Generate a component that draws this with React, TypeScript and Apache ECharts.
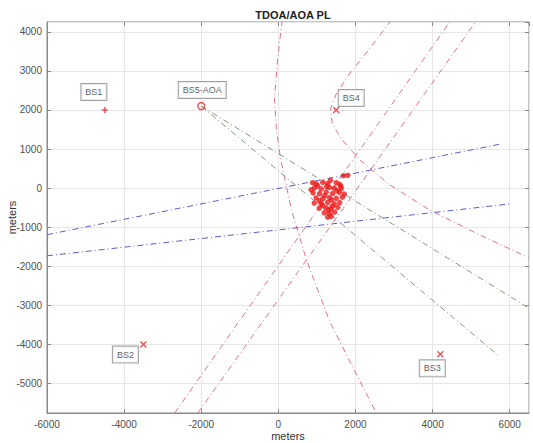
import React, { useEffect, useRef } from "react";
import * as echarts from "echarts";

// Base stations
const stationNames = ["BS1", "BS2", "BS3", "BS4", "BS5-AOA"];
const stationX = [-4500, -3500, 4200, 1500, -2000];
const stationY = [2000, -4000, -4250, 2000, 2100];

// Estimated positions (cluster)
const clusterX = [1690, 1800, 890, 980, 1150, 1280, 1500, 1590, 940, 1110, 1320, 1450, 1630, 900, 1070, 1240, 1410, 1580, 1710, 980, 1150, 1330, 1500, 1660, 930, 1110, 1280, 1450, 1590, 1060, 1240, 1370, 1540, 1190, 1320, 1460, 1280, 1370, 1020, 1200, 1380, 1520, 1250, 1060, 1400, 1150, 1300, 1620, 850, 1350];
const clusterY = [320, 330, 140, 110, 150, 120, 140, 100, 10, -20, 20, 0, -10, -120, -140, -100, -130, -110, -150, -250, -270, -240, -260, -230, -380, -390, -360, -400, -370, -510, -500, -530, -490, -630, -650, -610, -740, -720, 60, -190, -300, -60, 40, -320, -460, -440, -560, 50, -40, 200];

// TDOA hyperbola bounds (pink)
const hypOuterX = [100, -20, -100, -50, 60, 340, 730, 1320, 1970, 2540];
const hypOuterY = [4300, 3300, 2280, 1500, 735, -550, -1840, -3380, -4660, -5750];
const hypInnerX = [2930, 2360, 1840, 1500, 1350, 1400, 1640, 2100, 2880, 3910, 5210, 6500];
const hypInnerY = [4300, 3560, 2920, 2410, 2020, 1640, 1250, 735, 90, -550, -1190, -1780];
const hypDiagAX = [-2690, 4480];
const hypDiagAY = [-5750, 4300];
const hypDiagBX = [-2090, 5150];
const hypDiagBY = [-5750, 4300];

// TDOA bounds (blue)
const blueUpperX = [-6000, 5720];
const blueUpperY = [-1190, 1120];
const blueLowerX = [-6000, 6030];
const blueLowerY = [-1730, -400];

// AOA bounds (green), from BS5
const aoaUpperX = [-2000, 6500];
const aoaUpperY = [2100, -3070];
const aoaLowerX = [-2000, 5720];
const aoaLowerY = [2100, -4290];

const zip = (xs: number[], ys: number[]) => xs.map((x, i) => [x, ys[i]]);

const labelOffsets = [
  [-11, -18],
  [-18, 10],
  [-8, 14],
  [15, -12],
  [1, -16],
];

const CROSS = "path://M0,0L10,10M10,0L0,10";
const PLUS = "path://M5,0L5,10M0,5L10,5";

export default function App() {
  const ref = useRef<HTMLDivElement>(null);
  useEffect(() => {
    if (!ref.current) return;
    const chart = echarts.init(ref.current, null, { renderer: "svg" });
    const dash = [6, 3, 1, 3];
    const lineSeries = (data: number[][], color: string) => ({
      type: "line",
      data,
      showSymbol: false,
      symbol: "none",
      silent: true,
      clip: true,
      lineStyle: { color, width: 1, type: dash },
      z: 2,
    });
    const pink = "#e0708f";
    const blue = "#5a5ccf";
    const green = "#7a9c7a";
    const fmt = (v: number) => String(Math.round(v));
    const tickStyle = { show: true, inside: true, length: 4, lineStyle: { color: "#8a8a8a" } };
    const axisCommon = {
      axisLine: { show: true, onZero: false, lineStyle: { color: "#8a8a8a" } },
      axisTick: tickStyle,
      splitLine: { show: true, lineStyle: { color: "#e6e6e6", width: 1 } },
      axisLabel: { color: "#505050", fontSize: 10, fontFamily: "Liberation Sans", formatter: fmt },
      nameTextStyle: { color: "#333", fontSize: 11, fontFamily: "Liberation Sans" },
      nameMoveOverlap: false,
    };
    chart.setOption({
      animation: false,
      backgroundColor: "#ffffff",
      title: {
        text: "TDOA/AOA PL",
        left: 288,
        textAlign: "center",
        top: 4,
        textStyle: { fontSize: 11, fontWeight: "bold", color: "#222", fontFamily: "Liberation Sans" },
      },
      grid: {
        left: 47,
        right: 4,
        top: 22,
        bottom: 30,
        show: true,
        borderColor: "#8a8a8a",
        borderWidth: 1,
        containLabel: false,
        outerBoundsMode: "none",
      },
      xAxis: [
        {
          type: "value",
          min: -6000,
          max: 6500,
          splitNumber: 6,
          name: "meters",
          nameLocation: "middle",
          nameGap: 17,
          ...axisCommon,
          axisLabel: { ...axisCommon.axisLabel, margin: 6, showMaxLabel: false },
        },
        {
          type: "value",
          position: "top",
          min: -6000,
          max: 6500,
          splitNumber: 6,
          axisLine: { show: false, onZero: false },
          axisTick: tickStyle,
          axisLabel: { show: false },
          splitLine: { show: false },
        },
      ],
      yAxis: [
        {
          type: "value",
          min: -5750,
          max: 4250,
          splitNumber: 10,
          name: "meters",
          nameLocation: "middle",
          nameGap: 30,
          ...axisCommon,
          axisLabel: { ...axisCommon.axisLabel, margin: 5, showMinLabel: false, showMaxLabel: false },
        },
        {
          type: "value",
          position: "right",
          min: -5750,
          max: 4250,
          splitNumber: 10,
          axisLine: { show: false, onZero: false },
          axisTick: tickStyle,
          axisLabel: { show: false },
          splitLine: { show: false },
        },
      ],
      series: [
        lineSeries(zip(hypOuterX, hypOuterY), pink),
        lineSeries(zip(hypInnerX, hypInnerY), pink),
        lineSeries(zip(hypDiagAX, hypDiagAY), pink),
        lineSeries(zip(hypDiagBX, hypDiagBY), pink),
        lineSeries(zip(blueUpperX, blueUpperY), blue),
        lineSeries(zip(blueLowerX, blueLowerY), blue),
        lineSeries(zip(aoaUpperX, aoaUpperY), green),
        lineSeries(zip(aoaLowerX, aoaLowerY), green),
        {
          type: "scatter",
          data: zip(clusterX, clusterY),
          symbol: "circle",
          symbolSize: 5.5,
          itemStyle: { color: "#ee1c1c" },
          silent: true,
          z: 4,
        },
        {
          type: "scatter",
          silent: true,
          z: 5,
          data: stationNames.map((name, i) => ({
            name,
            value: [stationX[i], stationY[i]],
            symbol: i === 0 ? PLUS : i === 4 ? "circle" : CROSS,
            symbolSize: i === 4 ? 7 : 6,
            label: { offset: labelOffsets[i] },
          })),
          itemStyle: { color: "rgba(0,0,0,0)", borderColor: "#e8242c", borderWidth: 1.4 },
          label: {
            show: true,
            position: "inside",
            formatter: "{b}",
            fontSize: 9,
            color: "#333",
            fontFamily: "Liberation Sans",
            backgroundColor: "#ffffff",
            borderColor: "#8a8a8a",
            borderWidth: 1,
            padding: [4, 4, 3, 4],
          },
        },
      ],
    });
    return () => chart.dispose();
  }, []);
  return (
    <div
      ref={ref}
      style={{ position: "fixed", left: 0, top: 0, width: 533, height: 443, background: "#fff" }}
    />
  );
}
